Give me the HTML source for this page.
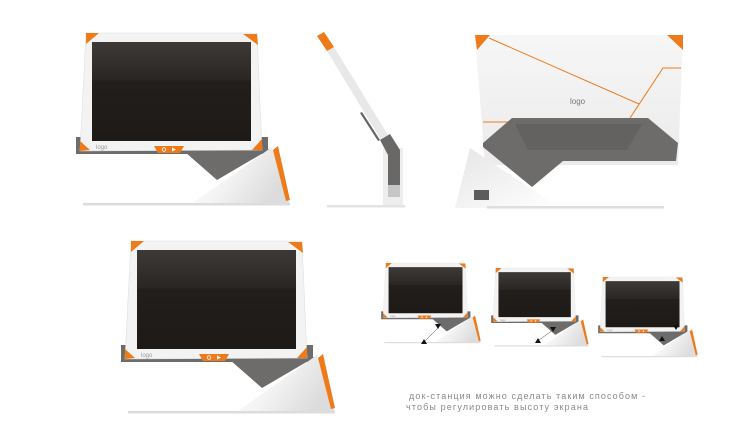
<!DOCTYPE html>
<html><head><meta charset="utf-8"><style>html,body{margin:0;padding:0;background:#fff}svg{display:block}</style></head>
<body>
<svg width="755" height="439" viewBox="0 0 755 439" xmlns="http://www.w3.org/2000/svg">
<defs>
<linearGradient id="scr" x1="0" y1="0" x2="0" y2="1">
<stop offset="0" stop-color="#3e3a38"/><stop offset="0.38" stop-color="#2a2624"/><stop offset="0.4" stop-color="#221e1c"/><stop offset="1" stop-color="#1e1a18"/>
</linearGradient>
<linearGradient id="wedge" x1="0" y1="0" x2="1" y2="0.4">
<stop offset="0" stop-color="#ffffff"/><stop offset="0.5" stop-color="#f4f4f4"/><stop offset="1" stop-color="#dcdcdc"/>
</linearGradient>
<linearGradient id="back" x1="0" y1="0" x2="0" y2="1">
<stop offset="0" stop-color="#f6f6f6"/><stop offset="1" stop-color="#ebebeb"/>
</linearGradient>
<linearGradient id="wedgeL" x1="0" y1="0" x2="1" y2="1">
<stop offset="0" stop-color="#e6e6e6"/><stop offset="1" stop-color="#ffffff"/>
</linearGradient>
<g id="tab">
<polygon points="-4,104 188,104 188,121 -4,121" fill="#6e6c6a"/>
<polygon points="105,119 190,116 137,147" fill="#6e6c6a"/>
<polygon points="110,172 192,114 210,172" fill="url(#wedge)"/>
<polygon points="193,117 198,113 210,167 206,168" fill="#ee7a1a"/>
<rect x="3" y="170" width="207" height="2.5" fill="#dcdcdc"/>
<polygon points="6,0 177,0 182,117 0,118" fill="#f3f3f3" stroke="#e0e0e0" stroke-width="0.6"/>
<polygon points="6,0 19,0 6,11" fill="#ee7a1a"/>
<polygon points="163,1 177,1 178,12" fill="#ee7a1a"/>
<polygon points="0,108 0,118 10,117" fill="#ee7a1a"/>
<polygon points="182,106 182,117 172,117" fill="#ee7a1a"/>
<polygon points="12,9 171,9 171,108 12,108" fill="url(#scr)"/>
<text x="16" y="116" font-family="Liberation Sans, sans-serif" font-size="6" fill="#999">logo</text>
<path d="M74,113 L104,113 L100,120 L78,120 Z" fill="#ee7a1a"/>
<circle cx="84" cy="116.5" r="1.8" fill="none" stroke="#fff" stroke-width="0.8"/>
<polygon points="92,114.5 96,116.5 92,118.5" fill="#fff"/>
</g>
</defs>

<use href="#tab" transform="translate(80,33)"/>
<use href="#tab" transform="translate(125,241)"/>
<use href="#tab" transform="translate(383,263) scale(0.465)"/>
<use href="#tab" transform="translate(493,268) scale(0.455)"/>
<use href="#tab" transform="translate(600,277) scale(0.465)"/>
<polygon points="421,344 424,339 427,344" fill="#111"/>
<polygon points="435,324 441,324 438,329" fill="#111"/>
<line x1="425" y1="341" x2="438" y2="328" stroke="#444" stroke-width="0.5"/>
<polygon points="535,343 538,338 541,343" fill="#111"/>
<polygon points="550,327 556,327 553,332" fill="#111"/>
<line x1="539" y1="340" x2="553" y2="330" stroke="#444" stroke-width="0.5"/>
<polygon points="659,341 662,336 665,341" fill="#111"/>
<polygon points="673,325 679,325 676,330" fill="#111"/>

<!-- side view -->
<rect x="383" y="148" width="20" height="58" fill="#eeeeee"/>
<rect x="327" y="205" width="78" height="2.5" fill="#e3e3e3"/>
<polygon points="327,51 334,47 388,135 381,140" fill="#e8e8e8"/>
<polygon points="317,36 324,32 334,47 327,51" fill="#ee7a1a"/>
<polygon points="360,113 362,112 380,140 378,141" fill="#666"/>
<polygon points="380,140 390,134 400,150 400,185 388,185 388,155" fill="#6a6866"/>
<rect x="388" y="185" width="12" height="12" fill="#c6c6c6"/>

<!-- back view -->
<polygon points="475,35 683,35 678,165 485,165" fill="url(#back)"/>
<polygon points="475,35 490,35 477,50" fill="#ee7a1a"/>
<polygon points="667,35 683,35 683,50" fill="#ee7a1a"/>
<polyline points="489,38 639,104" fill="none" stroke="#ee7a1a" stroke-width="1"/>
<polyline points="630,118 663,68 681,68" fill="none" stroke="#ee7a1a" stroke-width="1"/>
<line x1="483" y1="122" x2="510" y2="122" stroke="#ee7a1a" stroke-width="1"/>
<text x="570" y="104" font-family="Liberation Sans, sans-serif" font-size="8" fill="#777">logo</text>
<polygon points="470,148 455,208 560,208" fill="url(#wedgeL)"/>
<rect x="474" y="190" width="15" height="10" fill="#5e5c5a"/>
<rect x="487" y="206" width="177" height="2.5" fill="#dedede"/>
<polygon points="512,118 648,118 678,143 676,161 563,161 532,187 483,147 483,143" fill="#6e6c6a"/>
<polygon points="515,124 642,124 627,150 528,150" fill="#646261"/>

<text font-family="Liberation Sans, sans-serif" font-size="9" fill="#8a8a8a">
<tspan x="409" y="399" textLength="236" lengthAdjust="spacing">док-станция можно сделать таким способом -</tspan>
<tspan x="406" y="410" textLength="182" lengthAdjust="spacing">чтобы регулировать высоту экрана</tspan>
</text>
</svg>
</body></html>
